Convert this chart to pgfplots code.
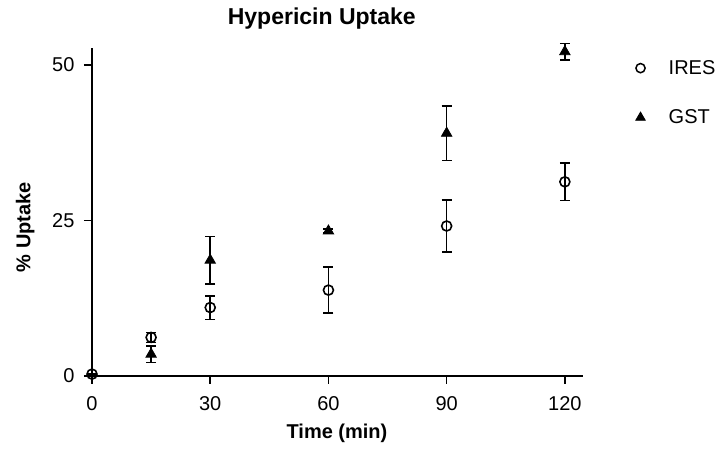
\documentclass[border=0pt]{standalone}
\usepackage{fontspec}
\setmainfont{Liberation Sans}
\usepackage{pgfplots}
\pgfplotsset{compat=1.18}
\begin{document}
\begin{tikzpicture}[x=1pt,y=1pt]
\useasboundingbox (0,0) rectangle (723,452);
\begin{axis}[
  at={(92pt,76pt)}, anchor=south west,
  scale only axis, width=491pt, height=328pt,
  xmin=0, xmax=124.6, ymin=0, ymax=52.7,
  clip=false,
  axis x line=bottom, axis y line=left,
  axis line style={-, line width=1.6pt},
  tick style={line width=1.6pt, black},
  tick align=outside, major tick length=8pt,
  xtick={0,30,60,90,120}, ytick={0,25,50},
  /pgf/number format/assume math mode=true,
  ticklabel style={font=\fontsize{20}{24}\selectfont},
  xticklabel style={yshift=-9pt},
  yticklabel style={xshift=-6pt},
  title={Hypericin Uptake},
  title style={at={(axis description cs:0.468,1.054)}, anchor=base, font=\fontsize{23}{27}\selectfont\bfseries},
  xlabel={Time (min)},
  xlabel style={at={(axis description cs:0.499,-0.174)}, anchor=center, font=\fontsize{20}{24}\selectfont\bfseries},
  ylabel={\% Uptake},
  ylabel style={at={(axis description cs:-0.136,0.454)}, anchor=center, rotate=0, font=\fontsize{20}{24}\selectfont\bfseries},
  legend style={at={(axis description cs:1.098,0.975)}, anchor=north west, draw=none, fill=none,
    font=\fontsize{20}{24}\selectfont, row sep=30pt},
  legend cell align=left,
  legend image code/.code={\path (-6pt,0) (26pt,0); \draw[#1] plot coordinates {(0pt,0pt)};},
]
\addlegendimage{only marks, mark=o, mark size=4.6pt, mark options={fill=white, line width=1.5pt}}
\addlegendentry{IRES}
\addlegendimage{only marks, mark=triangle*, mark size=5.5pt, mark options={fill=black, line width=0.8pt}}
\addlegendentry{GST}
% GST
\addplot+[forget plot, only marks, black, mark=triangle*, mark size=6pt,
  mark options={fill=black, solid, line width=0.8pt},
  error bars/.cd, y dir=both, y explicit,
  error bar style={line width=1.6pt, black},
  error mark options={rotate=90, mark size=5pt, line width=1.6pt, black}]
  table[x=x, y=y, y error=e] {
x y e
15 3.5 1.3
30 18.6 3.8
60 23.3 0.3
90 39.0 4.35
120 52.1 1.3
};
% IRES
\addplot+[forget plot, only marks, black, mark=o, mark size=5pt,
  mark options={fill=white, solid, line width=1.6pt},
  error bars/.cd, y dir=both, y explicit,
  error bar style={line width=1.6pt, black},
  error mark options={rotate=90, mark size=5pt, line width=1.6pt, black}]
  table[x=x, y=y, y error=e] {
x y e
0 0.3 0
15 6.2 0.8
30 11.0 1.9
60 13.8 3.7
90 24.1 4.2
120 31.2 3.0
};
\end{axis}
\end{tikzpicture}
\end{document}
